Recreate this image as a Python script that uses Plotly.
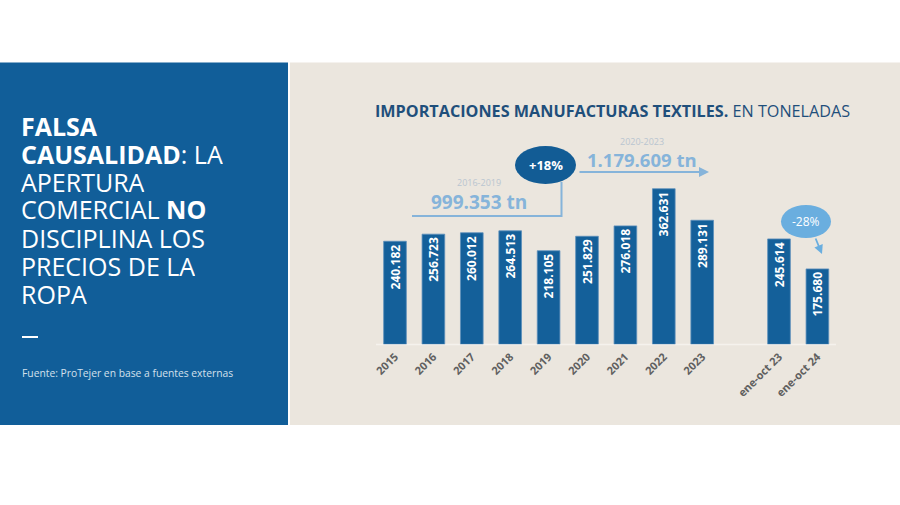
import plotly.graph_objects as go

W, H = 900, 505

# ---------------- data ----------------
categories = ["2015", "2016", "2017", "2018", "2019", "2020", "2021", "2022", "2023",
              "ene-oct 23", "ene-oct 24"]
positions = [0, 1, 2, 3, 4, 5, 6, 7, 8, 10, 11]
values = [240182, 256723, 260012, 264513, 218105, 251829, 276018, 362631, 289131,
          245614, 175680]
bar_labels = [f"{v:,}".replace(",", ".") for v in values]

headline = ["<b>FALSA</b>", "<b>CAUSALIDAD</b>: LA", "APERTURA", "COMERCIAL <b>NO</b>",
            "DISCIPLINA LOS", "PRECIOS DE LA", "ROPA"]
source = "Fuente: ProTejer en base a fuentes externas"
title = "<b>IMPORTACIONES MANUFACTURAS TEXTILES.</b> EN TONELADAS"
period1, total1 = "2016-2019", "999.353 tn"
period2, total2 = "2020-2023", "1.179.609 tn"
growth, drop = "+18%", "-28%"

# ---------------- helpers (pixel -> paper) ----------------
def px(x):
    return x / W

def py(y):
    return 1 - y / H

BLUE = "#115e99"
BAR = "#14609a"
BEIGE = "#ebe6de"
LIGHT = "#86b4da"
FONT = "Open Sans"

fig = go.Figure()

fig.add_trace(go.Bar(
    x=positions, y=values, width=0.59,
    marker=dict(color=BAR, line=dict(color="#5d8fbb", width=0.8)),
    text=bar_labels, textposition="inside", insidetextanchor="end", textangle=-90,
    textfont=dict(color="white", size=13, family=FONT, weight="bold"),
    cliponaxis=False, hoverinfo="skip",
))

shapes = [
    # left blue panel
    dict(type="rect", xref="paper", yref="paper", x0=px(0), x1=px(288), y0=py(425), y1=py(62.5),
         fillcolor=BLUE, line=dict(width=0), layer="below"),
    # beige chart panel
    dict(type="rect", xref="paper", yref="paper", x0=px(290), x1=px(900), y0=py(425), y1=py(62.5),
         fillcolor=BEIGE, line=dict(width=0), layer="below"),
    # baseline
    dict(type="line", xref="paper", yref="paper", x0=px(376), x1=px(836), y0=py(344.5), y1=py(344.5),
         line=dict(color="#f5f2ed", width=1.5), layer="below"),
    # dash in left panel
    dict(type="line", xref="paper", yref="paper", x0=px(22), x1=px(38), y0=py(337), y1=py(337),
         line=dict(color="white", width=2)),
    # bracket 2016-2019
    dict(type="path", xref="paper", yref="paper",
         path=f"M {px(412)},{py(216)} L {px(561.5)},{py(216)} L {px(561.5)},{py(182)}",
         line=dict(color=LIGHT, width=2)),
    # +18% ellipse
    dict(type="circle", xref="paper", yref="paper", x0=px(515), x1=px(576), y0=py(184), y1=py(146),
         fillcolor="#125c95", line=dict(width=0)),
    # -28% ellipse
    dict(type="circle", xref="paper", yref="paper", x0=px(781), x1=px(831), y0=py(238), y1=py(205),
         fillcolor="#6aaedf", line=dict(width=0)),
]

annotations = []
# headline lines
for i, line in enumerate(headline):
    annotations.append(dict(
        text=line, xref="paper", yref="paper", x=px(20), y=py(125 + 28 * i),
        xanchor="left", yanchor="middle", valign="middle", height=27, showarrow=False,
        borderpad=0, font=dict(family=FONT, size=25, color="white")))
annotations += [
    dict(text=source, xref="paper", yref="paper", x=px(20), y=py(373), xanchor="left",
         yanchor="middle", showarrow=False, font=dict(family=FONT, size=10.3, color="#d3e0ec")),
    dict(text=title, xref="paper", yref="paper", x=px(612), y=py(111), xanchor="center",
         yanchor="middle", showarrow=False, font=dict(family=FONT, size=16.2, color="#1f4f7b")),
    dict(text=period1, xref="paper", yref="paper", x=px(479), y=py(182.5), xanchor="center",
         yanchor="middle", showarrow=False, borderpad=0,
         font=dict(family=FONT, size=9, color="#b9c5d0")),
    dict(text=f"<b>{total1}</b>", xref="paper", yref="paper", x=px(479), y=py(201.5), xanchor="center",
         yanchor="middle", showarrow=False, borderpad=0,
         font=dict(family=FONT, size=19, color=LIGHT)),
    dict(text=period2, xref="paper", yref="paper", x=px(642), y=py(141.5), xanchor="center",
         yanchor="middle", showarrow=False, borderpad=0,
         font=dict(family=FONT, size=9, color="#b9c5d0")),
    dict(text=f"<b>{total2}</b>", xref="paper", yref="paper", x=px(642), y=py(159.5), xanchor="center",
         yanchor="middle", showarrow=False, borderpad=0,
         font=dict(family=FONT, size=18.5, color=LIGHT)),
    dict(text=f"<b>{growth}</b>", xref="paper", yref="paper", x=px(545.5), y=py(165), xanchor="center",
         yanchor="middle", showarrow=False, font=dict(family=FONT, size=13, color="white")),
    dict(text=drop, xref="paper", yref="paper", x=px(806), y=py(221.5), xanchor="center",
         yanchor="middle", showarrow=False, font=dict(family=FONT, size=12, color="white")),
    # arrow to the right
    dict(text="", xref="paper", yref="paper", x=px(709), y=py(172), ax=-131, ay=0,
         showarrow=True, arrowhead=2, arrowsize=1, arrowwidth=2, arrowcolor=LIGHT),
    # -28% arrow
    dict(text="", xref="paper", yref="paper", x=px(822), y=py(254), ax=-7, ay=-17,
         showarrow=True, arrowhead=2, arrowsize=1, arrowwidth=1.8, arrowcolor="#6aaedf"),
]

fig.update_layout(
    width=W, height=H, margin=dict(l=0, r=0, t=0, b=0),
    paper_bgcolor="white", plot_bgcolor="rgba(0,0,0,0)",
    showlegend=False, shapes=shapes, annotations=annotations,
    xaxis=dict(domain=[px(356.6), px(875)], range=[-1, 12.5], tickmode="array",
               tickvals=positions, ticktext=categories, tickangle=-45, ticklabelstandoff=3,
               tickfont=dict(family=FONT, size=11, color="#606060", weight="bold"),
               showgrid=False, zeroline=False, showline=False, ticks="", fixedrange=True),
    yaxis=dict(domain=[py(344.3), py(129.8)], range=[0, 500000], visible=False,
               showgrid=False, zeroline=False, fixedrange=True),
)

fig.write_html("out.html")
